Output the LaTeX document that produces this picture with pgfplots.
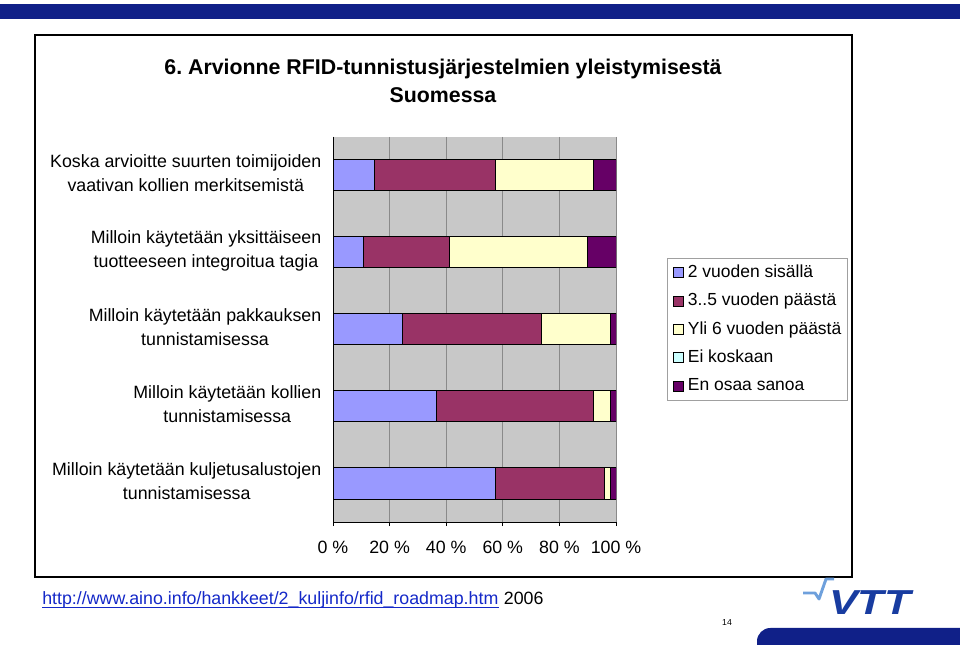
\documentclass[border=0pt]{standalone}
\usepackage{pgfplots}
\pgfplotsset{compat=1.18}
\usepackage{fontspec}
\setmainfont{Liberation Sans}
\frenchspacing
\definecolor{cA}{RGB}{153,153,255}
\definecolor{cB}{RGB}{153,51,102}
\definecolor{cC}{RGB}{255,255,204}
\definecolor{cD}{RGB}{204,255,255}
\definecolor{cE}{RGB}{102,0,102}
\definecolor{bgray}{RGB}{200,200,200}
\definecolor{ggray}{RGB}{138,138,138}
\definecolor{vttblue}{RGB}{16,32,136}
\definecolor{logoblue}{RGB}{24,60,160}
\definecolor{logolight}{RGB}{110,160,220}
\definecolor{urlblue}{RGB}{20,40,200}
\newcommand{\lf}{\fontsize{13.35}{18}\selectfont}
\pgfplotsset{myleg/.style={legend image code/.code={\path[draw=none,fill=none] (0pt,-3.75pt) rectangle (11pt,3.75pt);\draw[##1,draw=black,line width=0.5pt] (2.25pt,-3.75pt) rectangle (9.75pt,3.75pt);}}}
\begin{document}
\begin{tikzpicture}[x=0.75pt,y=0.75pt]
\useasboundingbox (0,0) rectangle (960,645);
\fill[vttblue] (0,641) rectangle (960,626);
\draw[line width=1.5pt] (35,610) rectangle (852,68);
\node[font=\bfseries\fontsize{16}{21}\selectfont, align=center] at (443,564) {6. Arvionne RFID-tunnistusjärjestelmien yleistymisestä\\Suomessa};
\begin{axis}[
  at={(249.75pt,92.25pt)}, anchor=south west, scale only axis,
  width=212.25pt, height=288.75pt,
  xbar stacked, bar width=23.25pt,
  xmin=0, xmax=100, ymin=-0.5, ymax=4.5, y dir=reverse,
  axis x line*=bottom, axis y line*=left,
  axis line style={black, line width=0.75pt},
  axis background/.style={fill=bgray},
  xtick={0,20,...,100}, xmajorgrids, grid style={ggray, line width=0.75pt},
  xticklabel={\pgfmathprintnumber{\tick}~\%},
  ytick={0,1,2,3,4},
  yticklabels={{Koska arvioitte suurten toimijoiden\\vaativan kollien merkitsemistä},
               {Milloin käytetään yksittäiseen\\tuotteeseen integroitua tagia},
               {Milloin käytetään pakkauksen\\tunnistamisessa},
               {Milloin käytetään kollien\\tunnistamisessa},
               {Milloin käytetään kuljetusalustojen\\tunnistamisessa}},
  y tick style={draw=none},
  tick align=outside, major tick length=3pt,
  x tick style={black, line width=0.75pt},
  yticklabel style={align=center, font=\lf, xshift=-2.25pt, yshift=1.5pt},
  xticklabel style={font=\lf, yshift=-8pt},
  /pgf/number format/assume math mode=true,
  legend style={at={(1.18,0.686)}, anchor=north west, draw={rgb,255:red,160;green,160;blue,160},
    fill=white, font=\fontsize{13.1}{18}\selectfont, row sep=5.2pt, inner xsep=2.5pt, inner ysep=3pt,
    nodes={inner xsep=2pt, inner ysep=1.5pt, text height=10pt, text depth=3pt}},
  legend cell align=left,
]
\addplot+[fill=cA, draw=black, line width=0.75pt, myleg] coordinates {(14.5,0) (10.8,1) (24.7,2) (36.5,3) (57.3,4)};
\addplot+[fill=cB, draw=black, line width=0.75pt, myleg] coordinates {(42.8,0) (30.2,1) (48.8,2) (55.4,3) (38.8,4)};
\addplot+[fill=cC, draw=black, line width=0.75pt, myleg] coordinates {(34.8,0) (48.9,1) (24.5,2) (6.1,3) (1.9,4)};
\addplot+[fill=cD, draw=black, line width=0.75pt, myleg] coordinates {(0,0) (0,1) (0,2) (0,3) (0,4)};
\addplot+[fill=cE, draw=black, line width=0.75pt, myleg] coordinates {(7.9,0) (10.1,1) (2.0,2) (2.0,3) (2.0,4)};
\legend{2 vuoden sisällä, 3..5 vuoden päästä, Yli 6 vuoden päästä, Ei koskaan, En osaa sanoa}
\pgfplotsinvokeforeach{-0.5,0.5,1.5,2.5,3.5,4.5}{\draw[black,line width=0.75pt] (axis cs:0,#1) -- ++(-4.5pt,0pt);}
\end{axis}
\node[anchor=base west, font=\lf, inner sep=0pt, text=urlblue] (url) at (42,40) {http://www.aino.info/hankkeet/2\_kuljinfo/rfid\_roadmap.htm};
\draw[urlblue, line width=0.6pt] ([yshift=-1.6pt]url.base west) -- ([yshift=-1.6pt]url.base east);
\node[anchor=base west, font=\lf, inner sep=0pt] at ([xshift=3.7pt]url.base east) {2006};
\node[font=\fontsize{6.5}{8}\selectfont] at (727,22) {14};
\fill[vttblue] (757,0) [rounded corners=10pt] -- (757,17) [sharp corners] -- (960,17) -- (960,0) -- cycle;
\draw[logolight, line width=2.2pt, line join=round] (803,52) -- (815,52) -- (819,46) -- (826,66) -- (834,66);
\node[font=\bfseries\itshape\fontsize{26}{30}\selectfont, text=logoblue, xscale=1.25, inner sep=0pt] at (870,42) {VTT};
\end{tikzpicture}
\end{document}
